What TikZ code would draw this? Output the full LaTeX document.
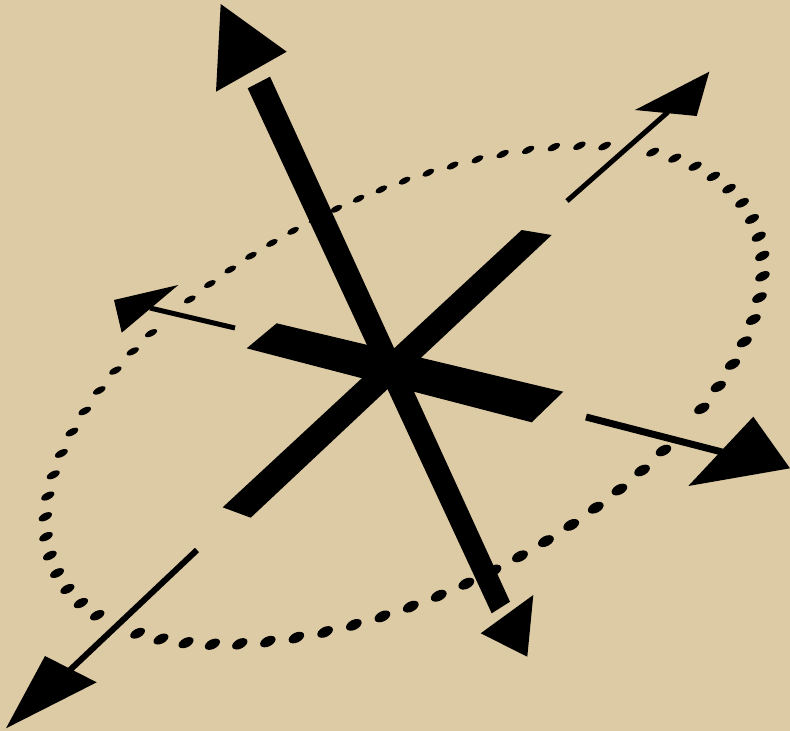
\documentclass[tikz,border=0pt]{standalone}
\usepackage{tikz}
\definecolor{bg}{RGB}{221,203,165}
\tikzset{
  shaft/.style={draw=black, line cap=butt},
  head/.style={fill=black},
  barshape/.style={fill=black},
  dotshape/.style={fill=black}
}
\begin{document}
\begin{tikzpicture}[x=1pt,y=-1pt]
\fill[bg] (0,0) rectangle (790,731);
\useasboundingbox (0,0) rectangle (790,731);

% dotted ellipse (perspective circle), dots skipped where the thin axes pass
\foreach \i in {0,...,75} {
  \pgfmathsetmacro\myu{\i*4.736842}
  \pgfmathsetmacro\myt{\myu + 4.47*sin(2*\myu) - 5.16*cos(\myu)}
  \pgfmathsetmacro\lx{390*cos(\myt)}
  \pgfmathsetmacro\ly{197*sin(\myt)}
  \pgfmathsetmacro\px{404 + \lx*cos(27) + \ly*sin(27)}
  \pgfmathsetmacro\py{395 - \lx*sin(27) + \ly*cos(27)}
  \pgfmathsetmacro\da{abs((\px-387)*0.6862 + (\py-371)*0.7275)}
  \pgfmathsetmacro\db{abs(-(\px-387)*0.2458 + (\py-366.5)*0.9693)}
  \pgfmathtruncatemacro\ok{(\da>12)*(\db>12)}
  \pgfmathsetmacro\ra{7.5+1*sin(\myt)}
  \pgfmathsetmacro\rb{4+1.1*sin(\myt)}
  \ifnum\ok=1
    \fill[dotshape, rotate around={27:(\px,\py)}] (\px,\py) ellipse [x radius=\ra pt, y radius=\rb pt];
  \fi
}

% thick bars
\fill[barshape] (247.7,88.3) -- (270,76.7) -- (510,601.7) -- (491.7,613.3) -- cycle;
\fill[barshape] (521.7,230) -- (551.7,235) -- (250.7,517.7) -- (222.7,507.3) -- cycle;
\fill[barshape] (276.7,323.3) -- (563.3,391.7) -- (531.7,422.3) -- (246.7,348.3) -- cycle;

% heads of the steep axis
\fill[head] (220.7,4) -- (286.7,51.7) -- (216,91.7) -- cycle;
\fill[head] (533.3,595) -- (527.3,656.7) -- (480.7,633.3) -- cycle;

% thin axes
\coordinate (ur0) at (567,201);
\coordinate (ur1) at (668,112);
\coordinate (dl0) at (197,550);
\coordinate (dl1) at (70,670);
\coordinate (r0) at (586,417);
\coordinate (r1) at (722,452);
\coordinate (l0) at (235,328);
\coordinate (l1) at (150,308);

\draw[shaft, line width=5pt] (ur0) -- (ur1);
\fill[head] (635,110) -- (709.3,71.7) -- (696.7,116) -- cycle;

\draw[shaft, line width=6pt] (dl0) -- (dl1);
\fill[head] (45,656) -- (96.7,682.3) -- (6,728.3) -- cycle;

\draw[shaft, line width=7pt] (r0) -- (r1);
\fill[head] (753.3,416.7) -- (790,468.3) -- (688.3,486) -- cycle;

\draw[shaft, line width=5pt] (l0) -- (l1);
\fill[head] (114,300) -- (178.3,285) -- (121.7,332.7) -- cycle;
\end{tikzpicture}
\end{document}
